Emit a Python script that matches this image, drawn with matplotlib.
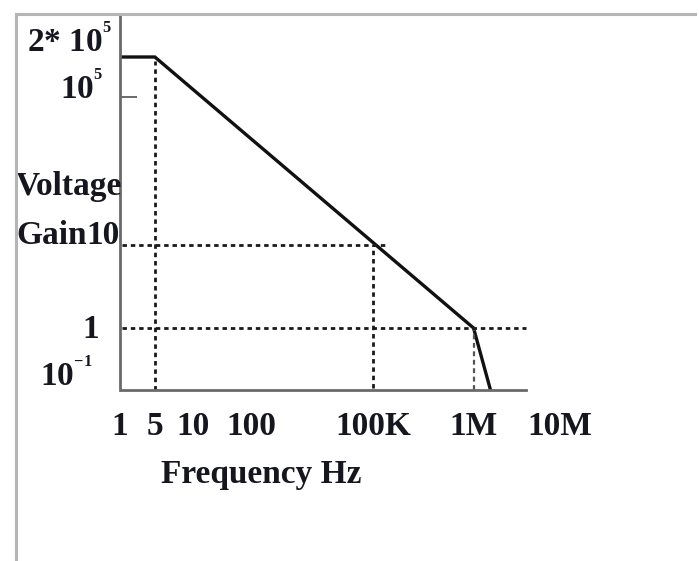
import numpy as np
import matplotlib
matplotlib.use("Agg")
import matplotlib.pyplot as plt
from matplotlib.lines import Line2D

plt.rcParams["font.family"] = ["Liberation Serif", "DejaVu Serif"]
plt.rcParams["font.weight"] = "bold"
plt.rcParams["mathtext.fontset"] = "custom"
plt.rcParams["mathtext.rm"] = "Liberation Serif:bold"
plt.rcParams["mathtext.bf"] = "Liberation Serif:bold"
plt.rcParams["mathtext.default"] = "rm"

# open-loop gain response (asymptotes)
freq = [1, 5, 1e6, 1.57e6]
gain = [2e5, 2e5, 1, 0.05]

# frequency axis labels
freq_ticks = [1, 5, 10, 100, 1e5, 1e6, 1e7]
freq_labels = ["1", "5", "10", "100", "100K", "1M", "10M"]

# gain axis labels
gain_ticks = [2e5, 1e5, 10, 1, 0.1]
gain_labels = ["2* $10^{{}^{5}}$", "$10^{{}^{5}}$", "10", "1", "$10^{{}^{-1}}$"]

# guide points (frequency, gain) marked with dotted lines
guide_freq = [5, 1e5, 1e6]
guide_gain = [2e5, 10, 1]

# the sketch is hand drawn, so the log axes are not evenly spaced:
# piecewise mapping of log10 values onto the drawing
x_anchor_log = np.array([-1, 0, np.log10(5), 1, 2, 5, 6, 7, 8])
x_anchor_pos = np.array([60, 118, 153, 191, 250, 372, 473, 560, 647])
y_anchor_log = np.log10([0.01, 0.05, 0.1, 1, 10, 1e5, 2e5, 5e5, 5e6])
y_anchor_pos = -np.array([420, 390, 378, 328, 245, 97, 57, 14, -100])


def fwd_x(v):
    return np.interp(np.log10(np.clip(v, 1e-12, None)), x_anchor_log, x_anchor_pos)


def inv_x(p):
    return 10 ** np.interp(p, x_anchor_pos, x_anchor_log)


def fwd_y(v):
    return np.interp(np.log10(np.clip(v, 1e-12, None)), y_anchor_log, y_anchor_pos)


def inv_y(p):
    return 10 ** np.interp(p, y_anchor_pos, y_anchor_log)


W, H = 699, 561
fig = plt.figure(figsize=(W / 100, H / 100), dpi=100)
ax = fig.add_axes([120 / W, (H - 390) / H, 480 / W, 376 / H])
ax.set_xscale("function", functions=(fwd_x, inv_x))
ax.set_yscale("function", functions=(fwd_y, inv_y))
x_lo, x_hi = float(inv_x(120)), float(inv_x(600))
x_end = float(inv_x(526))
ax.set_xlim(x_lo, x_hi)
ax.set_ylim(0.05, 5e5)

ink = "#16161f"
ax.plot(freq, gain, color="#111111", lw=2.4, solid_joinstyle="miter")

dots = dict(color="#1a1a1a", lw=2.0, linestyle=(0, (1.6, 1.4)))
# vertical guides down to the frequency axis
ax.vlines(guide_freq[0], 0.05, guide_gain[0] * 0.93, **dots)
ax.vlines(guide_freq[1], 0.055, guide_gain[1], **dots)
ax.vlines(guide_freq[2], 0.05, guide_gain[2], color="#555555", lw=1.6,
          linestyle=(0, (2.2, 1.6)))
# horizontal guides from the gain axis
ax.hlines(guide_gain[1], x_lo, guide_freq[1] * 1.4, **dots)
ax.hlines(guide_gain[2], x_lo, x_end, **dots)

for s in ["top", "right"]:
    ax.spines[s].set_visible(False)
for s in ["left", "bottom"]:
    ax.spines[s].set_color("#6a6a6a")
    ax.spines[s].set_linewidth(2.0)
ax.spines["bottom"].set_bounds(x_lo, x_end)

ax.set_xticks(freq_ticks, freq_labels)
ax.xaxis.set_minor_locator(plt.NullLocator())
ax.tick_params(axis="x", length=0, pad=15, labelsize=24, labelcolor=ink)

ax.set_yticks([])
ax.set_yticks([1e5], minor=True)
ax.tick_params(axis="y", which="minor", direction="in", length=12,
               width=1.4, color="#6a6a6a", labelleft=False)

# gain labels written beside the axis, as in the sketch
offsets = [(-8, 15), (-17, 8), (0, 10), (-21, -2), (-27, 2)]
for val, lab, (dx, dy) in zip(gain_ticks, gain_labels, offsets):
    ax.annotate(lab, xy=(0, val), xycoords=("axes fraction", "data"),
                xytext=(dx, dy), textcoords="offset pixels",
                ha="right", va="center", fontsize=24, color=ink,
                annotation_clip=False)

for word, dy in [("Voltage", 58), ("Gain", 10)]:
    ax.annotate(word, xy=(0, 10), xycoords=("axes fraction", "data"),
                xytext=(-104, dy), textcoords="offset pixels",
                ha="left", va="center", fontsize=24, color=ink,
                annotation_clip=False)

ax.set_xlabel("Frequency Hz", fontsize=24, fontweight="bold", color=ink)
ax.xaxis.set_label_coords((261 - 120) / 480, (390 - 475) / 376)
ax.xaxis.label.set_va("center")

# page frame around the figure
frame = dict(color="#b5b5b5", lw=2.2, transform=fig.transFigure)
fig.add_artist(Line2D([16 / W, 16 / W], [0, (H - 14) / H], **frame))
fig.add_artist(Line2D([16 / W, 695 / W], [(H - 14) / H, (H - 14) / H], **frame))

fig.savefig("out.png", dpi=100)
